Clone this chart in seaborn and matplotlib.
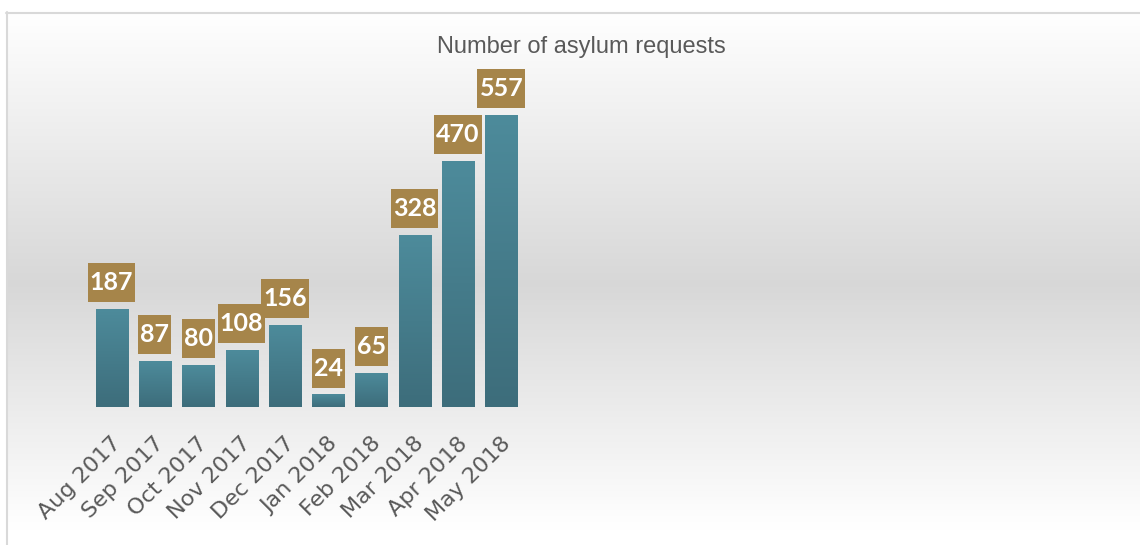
import matplotlib
matplotlib.use('Agg')
import numpy as np
import pandas as pd
import matplotlib.pyplot as plt
import matplotlib.transforms as mtransforms
from matplotlib.path import Path
import seaborn as sns

months = ["Aug 2017", "Sep 2017", "Oct 2017", "Nov 2017", "Dec 2017",
          "Jan 2018", "Feb 2018", "Mar 2018", "Apr 2018", "May 2018"]
requests = [187, 87, 80, 108, 156, 24, 65, 328, 470, 557]

title = "Number of asylum requests"
box_color = "#a6854a"
text_grey = "#595959"

df = pd.DataFrame({"Month": months, "Requests": requests})


def tall_box(x0, y0, width, height, mutation_size):
    # label box with more vertical than horizontal padding
    px = 0.08 * mutation_size
    py = 0.32 * mutation_size
    xa, xb = x0 - px, x0 + width + px
    ya, yb = y0 - py, y0 + height + py
    return Path([(xa, ya), (xb, ya), (xb, yb), (xa, yb), (xa, ya)], closed=True)


sns.set_style("white")
W, H = 1140, 545
fig = plt.figure(figsize=(W / 100, H / 100), dpi=100, facecolor="white")

# background panel with vertical grey gradient (white -> grey -> white)
bg = fig.add_axes([6 / W, 0, 1 - 6 / W, (H - 12) / H], zorder=0)
ys = np.linspace(0, 1, 300)
vals = np.interp(ys, [0, 0.51, 0.97, 1.0], [1.0, 0.845, 1.0, 1.0])
grad = np.repeat(vals[:, None, None], 3, axis=2)
bg.imshow(grad, aspect="auto", extent=[0, 1, 0, 1], origin="upper")
bg.set_xlim(0, 1)
bg.set_ylim(0, 1)
bg.axis("off")
bg.plot([0.0008, 0.0008], [0, 1], color="#d9d9d9", lw=1.5, clip_on=False)
bg.plot([0, 1], [0.999, 0.999], color="#d9d9d9", lw=1.5, clip_on=False)

# main axes
px_per_cat = 43.3
n_slots = 24
left = 90
ax = fig.add_axes([left / W, (H - 407) / H, n_slots * px_per_cat / W, 314.6 / H], zorder=1)
ax.set_facecolor("none")

sns.barplot(data=df, x="Month", y="Requests", color="#457f8e", width=0.74,
            saturation=1, ax=ax)

top_c = np.array([0x4d, 0x8b, 0x9b]) / 255
bot_c = np.array([0x3d, 0x6d, 0x7b]) / 255
g = np.linspace(0, 1, 100)[:, None]
bar_grad = (top_c[None, :] * (1 - g) + bot_c[None, :] * g)[:, None, :]
for p in ax.patches:
    x0, y0 = p.get_x(), p.get_y()
    w, h = p.get_width(), p.get_height()
    im = ax.imshow(bar_grad, aspect="auto", extent=[x0, x0 + w, y0, y0 + h],
                   origin="upper", zorder=2)
    im.set_clip_path(p)
    p.set_edgecolor("none")

ax.set_xlim(-0.5, n_slots - 0.5)
ax.set_ylim(0, 600)

for i, v in enumerate(requests):
    ax.annotate(str(v), (i, v), xytext=(0, 19), textcoords="offset points",
                ha="center", va="center", color="white", fontsize=18,
                fontweight="bold", family=["Lato", "DejaVu Sans"], zorder=5,
                bbox=dict(boxstyle=tall_box, fc=box_color, ec="none"))

ax.set_xlabel("")
ax.set_ylabel("")
ax.set_yticks([])
ax.tick_params(axis="x", length=0, pad=24)
shift = mtransforms.ScaledTranslation(6 / 100, 0, fig.dpi_scale_trans)
for lab in ax.get_xticklabels():
    lab.set_rotation(45)
    lab.set_ha("right")
    lab.set_va("center")
    lab.set_rotation_mode("anchor")
    lab.set_fontsize(16)
    lab.set_color(text_grey)
    lab.set_family("DejaVu Sans")
    lab.set_transform(lab.get_transform() + shift)
sns.despine(ax=ax, left=True, bottom=True)

fig.text(581 / W, 1 - 47 / H, title, ha="center", va="center",
         fontsize=17, color=text_grey, family="Liberation Sans")

fig.savefig("out.png", dpi=100, facecolor="white")
